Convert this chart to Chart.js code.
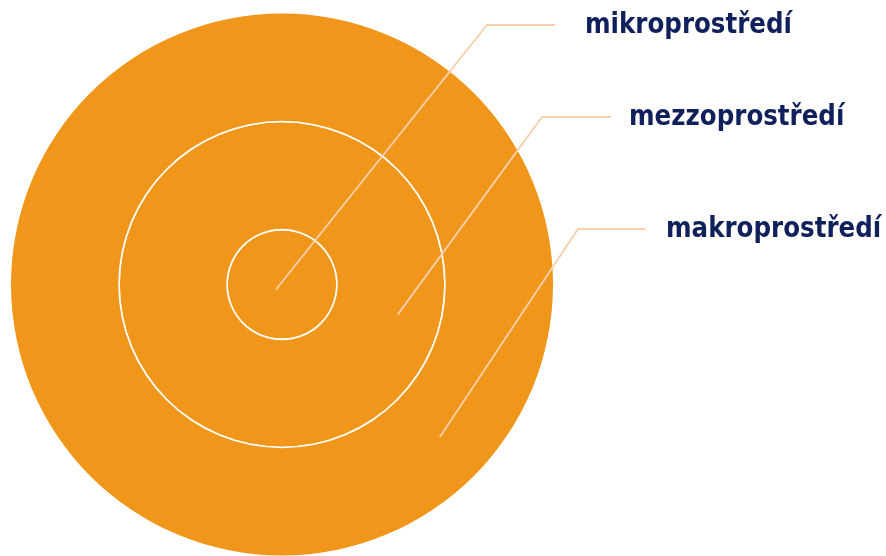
<!DOCTYPE html>
<html>
<head>
<meta charset="utf-8">
<script src="https://cdn.jsdelivr.net/npm/chart.js@4"></script>
<style>
  html, body { margin: 0; padding: 0; background: #fff; }
  #wrap { width: 886px; height: 556px; position: relative; }
</style>
</head>
<body>
<div id="wrap"><canvas id="rings"></canvas></div>
<script>
/* ---------- DATA ---------- */
// outermost ring first (Chart.js draws dataset 0 as the outer ring)
const categories = ["makroprostředí", "mezzoprostředí", "mikroprostředí"];
const ringValues = [1, 1, 1];

/* ---------- LAYOUT ---------- */
const outerRadius = 271;
const ringWeights = [107, 107, 54];   // ring thickness in px, outer -> inner
const gapWeight = 1.6;                // thin white ring between the bands
const ringColor = "#F0961A";
const textColor = "#10205B";
const leaderColor = "#F8D0AE";

// leader line per ring: anchor (angle deg, fraction across ring), elbow, end x
const leaders = [
  { angle: 44, frac: 0.52, elbow: [578, 229], endX: 646, textX: 666 },
  { angle: 14.6, frac: 0.6, elbow: [542, 117], endX: 611, textX: 629 },
  { angle: 140, frac: 0.15, elbow: [487, 25], endX: 555, textX: 585 }
];

// build datasets: band, white gap, band, white gap, band
const datasets = [];
const bandIndex = [];
categories.forEach(function (name, i) {
  if (i > 0) {
    datasets.push({
      label: "gap",
      data: [1],
      weight: gapWeight,
      backgroundColor: "#ffffff",
      borderWidth: 0,
      hoverOffset: 0
    });
  }
  bandIndex.push(datasets.length);
  datasets.push({
    label: name,
    data: [ringValues[i]],
    weight: ringWeights[i] - (i > 0 ? gapWeight / 2 : 0) + (i === categories.length - 1 ? gapWeight / 2 : 0),
    backgroundColor: ringColor,
    borderWidth: 0,
    hoverOffset: 0
  });
});

/* ---------- LABEL PLUGIN ---------- */
const leaderLabels = {
  id: "leaderLabels",
  afterDatasetsDraw(chart) {
    const ctx = chart.ctx;
    ctx.save();
    categories.forEach(function (name, i) {
      const arc = chart.getDatasetMeta(bandIndex[i]).data[0];
      if (!arc) return;
      const p = arc.getProps(["x", "y", "innerRadius", "outerRadius"], true);
      const r = p.innerRadius + (p.outerRadius - p.innerRadius) * leaders[i].frac;
      const a = leaders[i].angle * Math.PI / 180;
      const ax = p.x + r * Math.cos(a);
      const ay = p.y + r * Math.sin(a);
      const [ex, ey] = leaders[i].elbow;

      ctx.strokeStyle = leaderColor;
      ctx.lineWidth = 1.8;
      ctx.beginPath();
      ctx.moveTo(ax, ay);
      ctx.lineTo(ex, ey);
      ctx.lineTo(leaders[i].endX, ey);
      ctx.stroke();

      // text, squeezed a little to match the narrow bold face
      ctx.save();
      ctx.font = "bold 28px 'DejaVu Sans'";
      ctx.fillStyle = textColor;
      ctx.textBaseline = "alphabetic";
      ctx.textAlign = "left";
      ctx.translate(leaders[i].textX, ey + 8);
      ctx.scale(0.877, 1);
      ctx.fillText(name, 0, 0);
      ctx.restore();
    });
    ctx.restore();
  }
};

/* ---------- CHART ---------- */
document.addEventListener("DOMContentLoaded", function () {
  const ctx = document.getElementById("rings").getContext("2d");

  new Chart(ctx, {
    type: "doughnut",
    data: {
      labels: ["ring"],
      datasets: datasets
    },
    options: {
      responsive: true,
      maintainAspectRatio: false,
      animation: false,
      cutout: 0,
      radius: outerRadius,
      layout: { padding: { left: 10, right: 332, top: 13, bottom: 0 } },
      plugins: {
        legend: { display: false },
        tooltip: { enabled: false }
      },
      events: []
    },
    plugins: [leaderLabels]
  });
});
</script>
</body>
</html>
